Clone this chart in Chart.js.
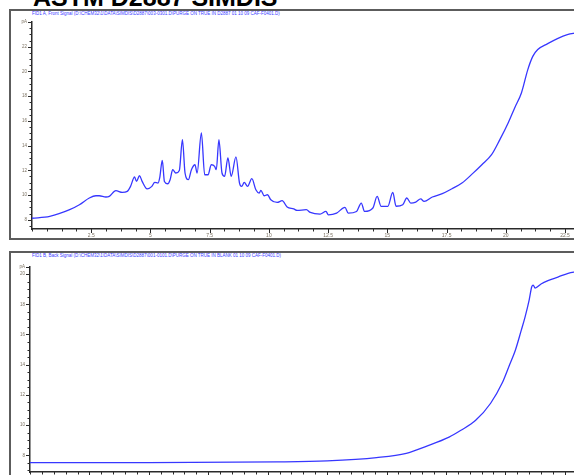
<!DOCTYPE html>
<html>
<head>
<meta charset="utf-8">
<script src="https://cdn.jsdelivr.net/npm/chart.js@4/dist/chart.umd.min.js"></script>
<style>
  html, body { margin: 0; padding: 0; background: #fff; }
  body { width: 574px; height: 475px; overflow: hidden; position: relative; font-family: "Liberation Sans", Arial, sans-serif; }
  .title { position: absolute; left: 33px; top: -15px; font-size: 25px; line-height: 25px; font-weight: bold; color: #000; white-space: nowrap; }
  .box { position: absolute; border: 2px solid #5c5c5c; box-sizing: border-box; }
  .hdr { position: absolute; font-size: 4.5px; line-height: 5px; color: #3a3aff; white-space: nowrap; }
  canvas { position: absolute; }
</style>
</head>
<body>
<div class="title">ASTM D2887 SIMDIS</div>
<div class="box" style="left:9px; top:9px; width:700px; height:231px;"></div>
<div class="box" style="left:9px; top:251px; width:700px; height:300px;"></div>
<div class="hdr" style="left:32px; top:11px;">FID1 A, Front Signal (D:\CHEM32\1\DATA\SIMDIS\D2887\003-0301.D\PURGE ON TRUE IN D2887 01 10 09 CAF-F0401.D)</div>
<div class="hdr" style="left:32px; top:253px;">FID1 B, Back Signal (D:\CHEM32\1\DATA\SIMDIS\D2887\001-0101.D\PURGE ON TRUE IN BLANK 01 10 09 CAF-F0401.D)</div>
<canvas id="topChart" width="620" height="227" style="left:11px; top:11px;"></canvas>
<canvas id="bottomChart" width="620" height="240" style="left:11px; top:253px;"></canvas>
<script>
// Front signal (sample), retention time in min vs pA
const topTime = [0, 0.75, 1.59, 2.0, 2.42, 2.70, 2.84, 3.12, 3.26, 3.54, 3.81, 4.02, 4.16, 4.33, 4.41, 4.54, 4.65, 4.86,
  5.06, 5.18, 5.32, 5.39, 5.50, 5.59, 5.73, 5.83, 5.94, 6.07, 6.22, 6.35, 6.46, 6.60, 6.73, 6.88, 6.97, 7.15, 7.29,
  7.43, 7.57, 7.71, 7.78, 7.89, 8.02, 8.13, 8.27, 8.41, 8.61, 8.76, 8.85, 8.96, 9.10, 9.28, 9.45, 9.59, 9.66, 9.80,
  9.94, 10.08, 10.35, 10.56, 10.77, 11.05, 11.19, 11.58, 11.75, 12.16, 12.41, 12.51, 12.86, 13.21, 13.35, 13.70,
  13.90, 14.04, 14.39, 14.57, 14.74, 15.02, 15.23, 15.37, 15.65, 15.82, 15.99, 16.20, 16.41, 16.55, 16.90, 17.32,
  17.73, 18.15, 18.62, 18.99, 19.40, 19.75, 20.10, 20.38, 20.66, 20.93, 21.14, 21.35, 21.77, 22.18, 22.60, 23.5];
const topSignal = [8.12, 8.27, 8.81, 9.21, 9.76, 9.94, 9.94, 9.84, 9.89, 10.35, 10.21, 10.29, 10.70, 11.46, 11.10, 11.56, 11.10, 10.49,
  10.70, 11.02, 10.97, 11.38, 12.80, 11.10, 10.91, 11.24, 12.05, 11.78, 11.99, 14.48, 11.78, 11.24, 12.05, 12.45, 11.78, 15.02, 11.64,
  11.64, 12.45, 12.32, 12.05, 14.48, 11.78, 11.51, 13.00, 11.51, 13.08, 10.97, 10.70, 11.02, 10.70, 11.32, 10.43, 10.16, 10.37, 9.94,
  10.02, 9.62, 9.40, 9.54, 9.03, 8.87, 8.75, 8.81, 8.59, 8.46, 8.67, 8.40, 8.54, 9.00, 8.54, 8.67,
  9.35, 8.67, 8.95, 9.89, 9.08, 9.08, 10.21, 9.09, 9.21, 9.76, 9.35, 9.43, 9.68, 9.48, 9.84, 10.11,
  10.51, 10.97, 11.77, 12.45, 13.26, 14.48, 15.83, 17.07, 18.26, 20.15, 21.22, 21.77, 22.25, 22.66, 22.98, 23.3];

// Back signal (blank run)
const bottomTime = [0, 5, 10.42, 12.5, 14.58, 15.83, 16.67, 17.63, 18.13, 18.75, 19.38, 19.86, 20.17, 20.42, 20.67, 20.83,
  21.0, 21.11, 21.17, 21.25, 21.5, 21.79, 22.21, 22.64, 23.5];
const bottomSignal = [7.52, 7.52, 7.57, 7.64, 7.85, 8.13, 8.60, 9.21, 9.66, 10.32, 11.45, 12.77, 13.97, 14.96, 16.29, 17.17,
  18.28, 19.16, 19.27, 19.07, 19.34, 19.56, 19.80, 20.05, 20.25];

// axis settings
const xLabelEvery = 2.5;
const yLabelEvery = 2;
const yUnit = 'pA';

// ChemStation style ticks: long on labelled values, short in between
const tickMarks = {
    id: 'tickMarks',
    afterDraw(chart) {
        const ctx = chart.ctx;
        ctx.save();
        ctx.strokeStyle = '#2a2a2a';
        ctx.lineWidth = 1;
        ['x', 'y'].forEach(id => {
            const scale = chart.scales[id];
            scale.ticks.forEach(t => {
                const p = Math.round(scale.getPixelForValue(t.value)) + 0.5;
                const len = t.label !== '' ? 4 : 2.5;
                ctx.beginPath();
                if (id === 'x') {
                    ctx.moveTo(p, scale.top);
                    ctx.lineTo(p, scale.top + len);
                } else {
                    ctx.moveTo(scale.right, p);
                    ctx.lineTo(scale.right - len, p);
                }
                ctx.stroke();
            });
        });
        ctx.restore();
    }
};

function isMultiple(v, step) {
    return Math.abs(v / step - Math.round(v / step)) < 1e-6;
}

function makeChart(id, times, values, opts) {
    const ctx = document.getElementById(id).getContext('2d');
    return new Chart(ctx, {
        type: 'line',
        data: {
            datasets: [{
                data: times.map((t, i) => ({ x: t, y: values[i] })),
                borderColor: 'rgb(55, 55, 255)',
                borderWidth: 1.3,
                pointRadius: 0,
                cubicInterpolationMode: 'monotone',
                fill: false
            }]
        },
        options: {
            responsive: false,
            animation: false,
            layout: { padding: { top: opts.padTop, right: 0, left: 0, bottom: 0 } },
            plugins: { legend: { display: false }, tooltip: { enabled: false } },
            scales: {
                x: {
                    type: 'linear',
                    min: 0,
                    max: 25,
                    grid: { display: false, drawTicks: false, tickLength: 0 },
                    border: { display: true, color: '#2a2a2a', width: 1.5 },
                    afterFit: s => { s.height = opts.xHeight; },
                    ticks: {
                        stepSize: opts.xStep,
                        autoSkip: false,
                        maxRotation: 0,
                        padding: 4,
                        color: '#7a7060',
                        font: { size: 5, family: 'Liberation Sans' },
                        callback: v => (v > 0 && isMultiple(v, xLabelEvery)) ? String(v) : ''
                    }
                },
                y: {
                    type: 'linear',
                    min: opts.yMin,
                    max: opts.yMax,
                    grid: { display: false, drawTicks: false, tickLength: 0 },
                    border: { display: true, color: '#2a2a2a', width: 1.5 },
                    afterFit: s => { s.width = opts.yWidth; },
                    ticks: {
                        stepSize: 0.5,
                        includeBounds: false,
                        autoSkip: false,
                        padding: 5,
                        color: '#7a7060',
                        font: { size: 4.5, family: 'Liberation Sans' },
                        callback: v => {
                            if (Math.abs(v - opts.yMax) < 1e-6) return yUnit;
                            return isMultiple(v, yLabelEvery) ? String(v) : '';
                        }
                    }
                }
            }
        },
        plugins: [tickMarks]
    });
}

makeChart('topChart', topTime, topSignal, { padTop: 11, xHeight: 9, yWidth: 21, xStep: 0.625, yMin: 7.25, yMax: 24 });
makeChart('bottomChart', bottomTime, bottomSignal, { padTop: 13.5, xHeight: 21, yWidth: 19, xStep: 0.5, yMin: 6.9, yMax: 20.5 });
</script>
</body>
</html>
